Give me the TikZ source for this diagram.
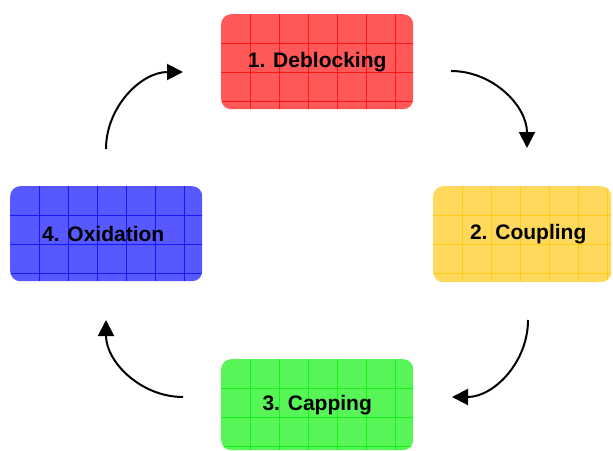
\documentclass[tikz,border=0pt]{standalone}
\usepackage{fontspec}
\setmainfont{Liberation Sans}
\usetikzlibrary{arrows.meta}
\definecolor{redfill}{RGB}{255,88,88}
\definecolor{redgrid}{RGB}{255,0,0}
\definecolor{yelfill}{RGB}{255,217,92}
\definecolor{yelgrid}{RGB}{255,200,0}
\definecolor{grnfill}{RGB}{88,245,88}
\definecolor{grngrid}{RGB}{0,240,0}
\definecolor{blufill}{RGB}{88,88,255}
\definecolor{blugrid}{RGB}{0,0,255}
\tikzset{
  stepbox/.style={draw=none, rounded corners=10pt, anchor=north west, inner sep=0pt,
    font=\fontsize{21}{24}\selectfont\bfseries, text=black},
  gridbox/.style={path picture={
    \foreach \i in {1,...,7}{
      \draw[#1, line width=0.8pt, opacity=0.75]
        ([xshift=\i*29pt]path picture bounding box.north west) --
        ([xshift=\i*29pt]path picture bounding box.south west);
    }
    \foreach \j in {1,...,3}{
      \draw[#1, line width=0.8pt, opacity=0.75]
        ([yshift=-\j*29pt]path picture bounding box.north west) --
        ([yshift=-\j*29pt]path picture bounding box.north east);
    }
  }},
  cyc/.style={line width=2pt, -{Triangle[length=16pt,width=16pt]}}
}
\begin{document}
\begin{tikzpicture}[x=1pt,y=-1pt]
\useasboundingbox (0,0) rectangle (613,450);
\node[stepbox, fill=redfill, gridbox=redgrid, minimum width=192pt, minimum height=95pt] (deb) at (221,14) {1. Deblocking};
\node[stepbox, fill=yelfill, gridbox=yelgrid, minimum width=178pt, minimum height=96pt] (cou) at (433,186) {\hspace*{12pt}\raisebox{-1pt}{2. Coupling}};
\node[stepbox, fill=grnfill, gridbox=grngrid, minimum width=192pt, minimum height=91pt] (cap) at (221,359) {\raisebox{-2pt}{3. Capping}};
\node[stepbox, fill=blufill, gridbox=blugrid, minimum width=192pt, minimum height=95pt] (oxi) at (10,186) {\hspace*{-6pt}4. Oxidation};
\coordinate (a1) at (106,149);
\coordinate (a2) at (183,72);
\coordinate (b1) at (451,71);
\coordinate (b2) at (527,148);
\coordinate (c1) at (528,320);
\coordinate (c2) at (452,397);
\coordinate (d1) at (183,397);
\coordinate (d2) at (106,320);
\draw[cyc] (a1) .. controls (106,107) and (141,72) .. (a2);
\draw[cyc] (b1) .. controls (493,71) and (527,106) .. (b2);
\draw[cyc] (c1) .. controls (528,362) and (494,397) .. (c2);
\draw[cyc] (d1) .. controls (141,397) and (106,362) .. (d2);
\end{tikzpicture}
\end{document}
